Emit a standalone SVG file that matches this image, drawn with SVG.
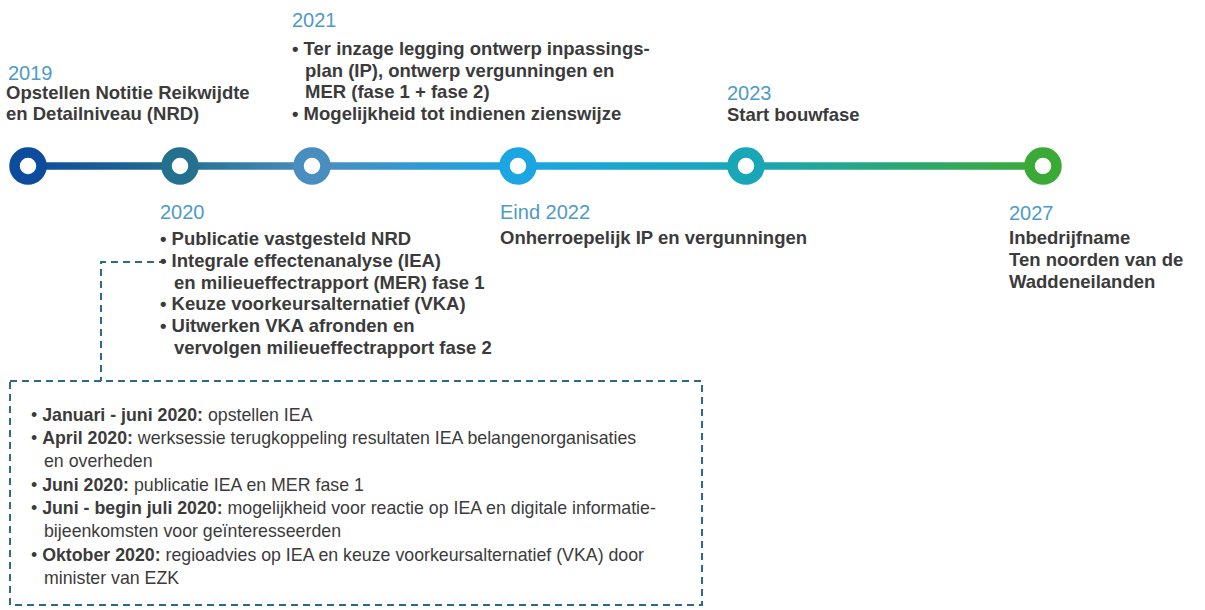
<svg xmlns="http://www.w3.org/2000/svg" width="1205" height="610" viewBox="0 0 1205 610">
<style>
text{font-family:"Liberation Sans",Arial,sans-serif;}
.yr{font-size:20px;fill:#4e9bc6;}
.bd{font-size:18.5px;font-weight:bold;fill:#3b3b3b;}
.bx{font-size:17.75px;fill:#3b3b3b;}
.bx .b{font-weight:bold;}
.ring{fill:#fff;stroke-width:10.5;}
.dash{fill:none;stroke:#2b6a8a;stroke-width:2;stroke-dasharray:7 5;}
</style>
<defs>
<linearGradient id="tl" gradientUnits="userSpaceOnUse" x1="28" y1="0" x2="1044" y2="0">
<stop offset="0" stop-color="#0d4c9c"/>
<stop offset="0.15" stop-color="#24708f"/>
<stop offset="0.28" stop-color="#4a8dbf"/>
<stop offset="0.48" stop-color="#1ba5e3"/>
<stop offset="0.71" stop-color="#19a6b6"/>
<stop offset="1" stop-color="#3ba936"/>
</linearGradient>
</defs>
<g id="connectors">
<line x1="28" y1="166" x2="1044" y2="166" stroke="url(#tl)" stroke-width="7.5"/>
<path class="dash" d="M166 262 H101 V381"/>
</g>
<g id="n2019">
<circle class="ring" cx="28" cy="166" r="13.5" stroke="#0d4c9c"/>
<text class="yr" x="8" y="80">2019</text>
<text class="bd" x="6" y="99">Opstellen Notitie Reikwijdte</text>
<text class="bd" x="6" y="120">en Detailniveau (NRD)</text>
</g>
<g id="n2020">
<circle class="ring" cx="180" cy="166" r="13.5" stroke="#24708f"/>
<text class="yr" x="160" y="219">2020</text>
<text class="bd" x="160" y="245">• Publicatie vastgesteld NRD</text>
<text class="bd" x="160" y="267">• Integrale effectenanalyse (IEA)</text>
<text class="bd" x="174" y="289">en milieueffectrapport (MER) fase 1</text>
<text class="bd" x="160" y="310">• Keuze voorkeursalternatief (VKA)</text>
<text class="bd" x="160" y="332">• Uitwerken VKA afronden en</text>
<text class="bd" x="174" y="354">vervolgen milieueffectrapport fase 2</text>
</g>
<g id="n2021">
<circle class="ring" cx="312" cy="166" r="13.5" stroke="#4a8dbf"/>
<text class="yr" x="292" y="27">2021</text>
<text class="bd" x="292" y="55">• Ter inzage legging ontwerp inpassings-</text>
<text class="bd" x="305" y="77">plan (IP), ontwerp vergunningen en</text>
<text class="bd" x="305" y="98">MER (fase 1 + fase 2)</text>
<text class="bd" x="292" y="120">• Mogelijkheid tot indienen zienswijze</text>
</g>
<g id="n2022">
<circle class="ring" cx="518" cy="166" r="13.5" stroke="#1ba5e3"/>
<text class="yr" x="500" y="219">Eind 2022</text>
<text class="bd" x="500" y="244">Onherroepelijk IP en vergunningen</text>
</g>
<g id="n2023">
<circle class="ring" cx="746" cy="166" r="13.5" stroke="#19a6b6"/>
<text class="yr" x="727" y="100">2023</text>
<text class="bd" x="727" y="121">Start bouwfase</text>
</g>
<g id="n2027">
<circle class="ring" cx="1043" cy="166" r="13.5" stroke="#3ba936"/>
<text class="yr" x="1009" y="220">2027</text>
<text class="bd" x="1009" y="244">Inbedrijfname</text>
<text class="bd" x="1009" y="266">Ten noorden van de</text>
<text class="bd" x="1009" y="288">Waddeneilanden</text>
</g>
<g id="detail2020">
<rect class="dash" x="10" y="381" width="692" height="224"/>
<text class="bx" x="31" y="421">• <tspan class="b">Januari - juni 2020:</tspan> opstellen IEA</text>
<text class="bx" x="31" y="444">• <tspan class="b">April 2020:</tspan> werksessie terugkoppeling resultaten IEA belangenorganisaties</text>
<text class="bx" x="44" y="467">en overheden</text>
<text class="bx" x="31" y="491">• <tspan class="b">Juni 2020:</tspan> publicatie IEA en MER fase 1</text>
<text class="bx" x="31" y="514">• <tspan class="b">Juni - begin juli 2020:</tspan> mogelijkheid voor reactie op IEA en digitale informatie-</text>
<text class="bx" x="44" y="537">bijeenkomsten voor geïnteresseerden</text>
<text class="bx" x="31" y="561">• <tspan class="b">Oktober 2020:</tspan> regioadvies op IEA en keuze voorkeursalternatief (VKA) door</text>
<text class="bx" x="44" y="584">minister van EZK</text>
</g>
</svg>
